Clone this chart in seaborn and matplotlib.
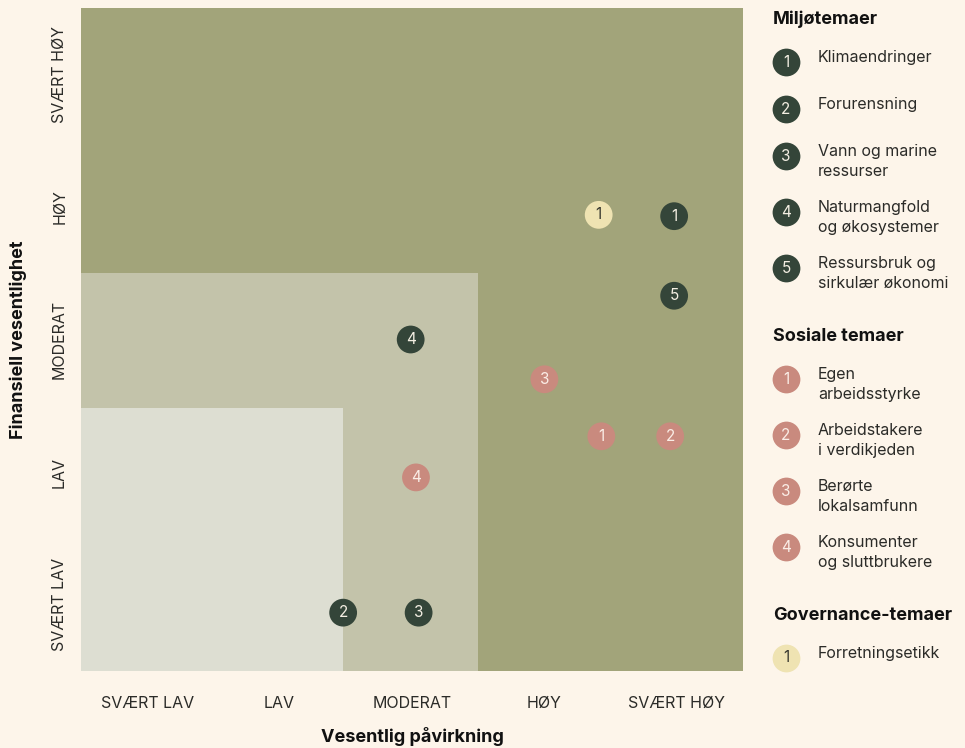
import pandas as pd
import matplotlib.pyplot as plt
import seaborn as sns

levels = ["SVÆRT LAV", "LAV", "MODERAT", "HØY", "SVÆRT HØY"]

env_names = ["Klimaendringer", "Forurensning", "Vann og marine\nressurser",
             "Naturmangfold\nog økosystemer", "Ressursbruk og\nsirkulær økonomi"]
env_impact = [4.48, 1.98, 2.55, 2.49, 4.48]
env_financial = [3.43, 0.44, 0.44, 2.50, 2.83]

soc_names = ["Egen\narbeidsstyrke", "Arbeidstakere\ni verdikjeden",
             "Berørte\nlokalsamfunn", "Konsumenter\nog sluttbrukere"]
soc_impact = [3.93, 4.45, 3.50, 2.53]
soc_financial = [1.77, 1.77, 2.20, 1.46]

gov_names = ["Forretningsetikk"]
gov_impact = [3.91]
gov_financial = [3.44]

# materiality zones, counted in levels from the lower left corner
zone_impact = [5, 3, 1.98]
zone_financial = [5, 3, 1.98]

bg = '#FDF5EA'
zone_colors = ['#A2A47A', '#C3C3AA', '#DDDED2']
group_colors = {'Miljøtemaer': '#344539', 'Sosiale temaer': '#C98A7E',
                'Governance-temaer': '#EFE3B2'}
num_colors = {'Miljøtemaer': '#F3EEE2', 'Sosiale temaer': '#FAEDE6',
              'Governance-temaer': '#3A3A30'}
text_color = '#2B2B28'

groups = [
    ('Miljøtemaer', env_names, env_impact, env_financial),
    ('Sosiale temaer', soc_names, soc_impact, soc_financial),
    ('Governance-temaer', gov_names, gov_impact, gov_financial),
]

rows = []
for group, names, xs, ys in groups:
    for i, (x, y) in enumerate(zip(xs, ys)):
        rows.append({'group': group, 'num': str(i + 1), 'impact': x, 'financial': y})
df = pd.DataFrame(rows)

sns.set_style('white')
plt.rcParams['font.family'] = ['Inter', 'DejaVu Sans']

fig = plt.figure(figsize=(9.65, 7.48), dpi=100, facecolor=bg)
ax = fig.add_axes([81 / 965, 1 - 671 / 748, 662 / 965, 663 / 748])
ax.set_facecolor(bg)

for xe, ye, c in zip(zone_impact, zone_financial, zone_colors):
    ax.fill_between([0, xe], 0, ye, color=c, linewidth=0, zorder=1)

sns.scatterplot(data=df, x='impact', y='financial', hue='group', palette=group_colors,
                s=400, linewidth=0, legend=False, ax=ax, zorder=3)
for _, r in df.iterrows():
    ax.text(r['impact'], r['financial'], r['num'], ha='center', va='center',
            fontsize=11, color=num_colors[r['group']], zorder=4)

ax.set_xlim(0, 5)
ax.set_ylim(0, 5)
ticks = [i + 0.5 for i in range(len(levels))]
ax.set_xticks(ticks)
ax.set_xticklabels(levels, fontsize=11.5, color=text_color)
ax.set_yticks(ticks)
ax.set_yticklabels(levels, fontsize=11.5, color=text_color, rotation=90, va='center')
ax.tick_params(axis='x', length=0, pad=18)
ax.tick_params(axis='y', length=0, pad=10)
ax.set_xlabel('')
ax.set_ylabel('')
sns.despine(ax=ax, left=True, bottom=True)

fig.text(412 / 965, 1 - 737 / 748, 'Vesentlig påvirkning', ha='center', va='center',
         fontsize=13, fontweight='bold', color='#111111')
fig.text(18 / 965, 1 - 340 / 748, 'Finansiell vesentlighet', ha='center', va='center',
         rotation=90, fontsize=13, fontweight='bold', color='#111111')

# legend drawn in pixel coordinates
leg = fig.add_axes([0, 0, 1, 1])
leg.set_xlim(0, 965)
leg.set_ylim(748, 0)
leg.axis('off')
leg.patch.set_alpha(0)

y = 19
for group, names, xs, ys in groups:
    leg.text(773, y, group, ha='left', va='center', fontsize=13, fontweight='bold', color='#111111')
    y += 43
    for i, name in enumerate(names):
        leg.scatter([786], [y], s=400, color=group_colors[group], linewidth=0)
        leg.text(786, y, str(i + 1), ha='center', va='center', fontsize=11, color=num_colors[group])
        leg.text(818, y - 12, name, ha='left', va='top', fontsize=11.5, color=text_color,
                 linespacing=1.4)
        y += 56 if '\n' in name else 47
    y += 12

fig.savefig('out.png', dpi=100, facecolor=bg)
